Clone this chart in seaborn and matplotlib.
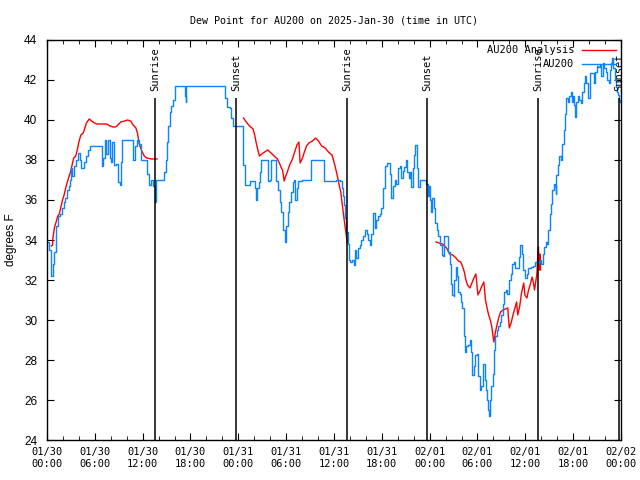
import pandas as pd
import seaborn as sns
import matplotlib.pyplot as plt
import matplotlib.dates as mdates

# data (hours since 2025-01-30 00:00 UTC, deg F)
start = pd.Timestamp('2025-01-30 00:00')

obs_hours = [0.0, 0.25, 0.5, 0.7, 0.9, 1.1, 1.4, 1.6, 1.9, 2.1, 2.3, 2.5, 2.7, 2.85, 3.0, 3.15, 3.4, 3.7, 3.9, 4.1,
             4.3, 4.6, 4.9, 5.2, 5.4, 6.8, 6.9, 7.05, 7.25, 7.45, 7.65, 7.85, 8.0, 8.2, 8.45, 8.7, 8.95, 9.1, 9.25, 9.45,
             10.6, 10.85, 11.05, 11.3, 11.6, 11.85, 12.3, 12.55, 12.75, 13.05, 13.3, 13.5, 13.65,
             14.5, 14.7, 14.9, 15.05, 15.2, 15.4, 15.6, 15.8, 16.0, 16.1, 17.1, 17.25, 17.4, 17.5, 22.15, 22.35, 22.6,
             22.9, 23.1, 23.35, 24.5, 24.65, 24.8, 25.3, 25.5, 26.0, 26.1, 26.2, 26.4, 26.55, 26.7, 26.85, 27.6, 27.7,
             28.0, 28.1, 28.55, 28.7, 29.0, 29.2, 29.4, 29.6, 29.8, 30.0, 30.2, 30.4, 30.6, 30.8, 31.0, 31.15, 31.35,
             31.5, 32.0, 32.95, 33.1, 34.6, 34.8, 35.6, 36.2, 36.8, 36.95, 37.1, 37.25, 37.4, 37.55, 37.7, 37.85,
             38.05, 38.25, 38.45, 38.6, 38.75, 39.0, 39.25, 39.45, 39.6, 39.85, 40.1, 40.3, 40.5, 40.7, 40.9, 41.1,
             41.3, 41.5, 41.75, 41.95, 42.2, 42.45, 42.65, 42.9, 43.05, 43.2, 43.4, 43.6, 43.8, 44.05, 44.25, 44.45,
             44.6, 44.75, 45.0, 45.2, 45.4, 45.55, 45.7, 45.9, 46.05, 46.2, 46.4, 46.55, 46.75, 47.2, 47.5, 47.75,
             47.9, 48.0, 48.2, 48.35, 48.5, 48.7, 48.9, 49.1, 49.3, 49.5, 49.7, 49.85, 50.1, 50.3, 50.5, 50.7, 50.85,
             51.0, 51.1, 51.3, 51.45, 51.6, 51.8, 51.95, 52.1, 52.3, 52.45, 52.6, 52.8, 53.0, 53.15, 53.35, 53.55,
             53.75, 53.95, 54.1, 54.3, 54.5, 54.7, 54.9, 55.05, 55.15, 55.3, 55.4, 55.6, 55.75, 55.95, 56.1, 56.25,
             56.45, 56.6, 56.8, 56.95, 57.15, 57.35, 57.55, 57.75, 57.95, 58.15, 58.35, 58.55, 58.75, 58.95, 59.15,
             59.35, 59.55, 59.75, 59.95, 60.15, 60.35, 60.7, 61.0, 61.25, 61.6, 61.8, 62.0, 62.2, 62.35, 62.55, 62.7,
             62.9, 63.1, 63.25, 63.4, 63.55, 63.7, 63.8, 63.9, 64.1, 64.25, 64.4, 64.5, 64.6, 64.8, 64.95, 65.1, 65.3,
             65.45, 65.7, 65.85, 66.0, 66.1, 66.25, 66.4, 66.55, 66.75, 66.95, 67.15, 67.35, 67.5, 67.65, 67.8, 67.9,
             68.05, 68.4, 68.6, 68.8, 68.95, 69.15, 69.4, 69.55, 69.7, 69.9, 70.1, 70.3, 70.45, 70.6, 70.75, 70.9,
             71.05, 71.2, 71.35, 71.5, 71.65, 71.8, 71.9]
obs_vals = [33.9, 33.5, 32.2, 32.8, 33.4, 34.7, 35.2, 35.3, 35.6, 35.9, 36.1, 36.5, 36.7, 37.0, 37.6, 37.2, 37.7, 38.0, 38.35, 38.0,
            37.6, 37.9, 38.2, 38.5, 38.7, 38.7, 37.7, 38.1, 39.0, 38.3, 39.0, 38.1, 37.9, 38.9, 37.75, 37.8, 36.9, 36.75, 37.9, 39.0,
            39.0, 38.0, 38.7, 39.0, 38.8, 38.0, 38.0, 37.3, 36.75, 37.0, 36.7, 35.9, 37.0,
            37.0, 37.4, 38.0, 38.9, 39.7, 40.4, 40.7, 41.0, 41.6, 41.7, 41.7, 41.2, 40.9, 41.7, 41.7, 41.1, 40.65,
            40.6, 40.1, 39.7, 39.7, 37.75, 36.75, 36.75, 36.95, 36.95, 36.6, 36.0, 36.6, 36.9, 37.4, 38.0, 38.0, 36.95,
            37.0, 38.0, 38.0, 36.95, 36.5, 35.9, 35.4, 34.5, 33.9, 34.7, 35.4, 35.9, 36.4, 36.9, 37.0, 36.0, 36.6,
            36.95, 37.0, 37.0, 38.0, 38.0, 36.95, 36.95, 37.0, 36.95, 36.6, 36.2, 35.75, 35.1, 34.4, 33.8, 33.0,
            32.9, 33.0, 32.75, 33.5, 33.1, 33.6, 33.75, 34.0, 34.2, 34.5, 34.3, 34.0, 33.75, 34.3, 35.35, 34.6,
            35.0, 35.2, 35.3, 35.6, 36.6, 37.7, 37.85, 37.85, 37.3, 36.1, 36.7, 37.0, 36.8, 37.6, 37.7, 37.1,
            37.45, 37.65, 38.0, 37.4, 37.1, 37.4, 36.65, 37.6, 38.25, 38.75, 37.6, 36.65, 37.0, 37.0, 36.8, 36.2,
            36.7, 36.0, 35.4, 36.1, 35.6, 34.85, 34.5, 34.2, 33.75, 33.25, 33.2, 34.2, 34.2, 33.4, 32.8, 31.8, 31.25,
            31.2, 32.0, 32.65, 32.2, 31.4, 31.3, 30.9, 30.6, 29.2, 28.4, 28.7, 28.75, 29.0, 28.4, 27.25, 27.7,
            28.25, 28.3, 27.2, 26.5, 26.7, 27.8, 27.0, 26.5, 26.0, 25.5, 25.2, 26.0, 26.7, 27.3, 28.5, 29.2,
            29.5, 29.7, 29.9, 30.25, 30.8, 31.4, 31.5, 31.3, 32.0, 32.3, 32.8, 32.9, 32.6, 32.6, 33.15,
            33.75, 33.3, 32.5, 32.1, 32.3, 32.6, 32.65, 32.7, 32.9, 32.9, 33.0, 32.8, 33.3, 33.65, 33.9, 33.8,
            34.5, 35.3, 35.8, 36.5, 36.8, 36.7, 36.3, 37.25, 37.75, 38.2, 38.2, 38.0, 38.8, 39.5, 40.3, 41.1, 40.9,
            41.2, 41.4, 40.9, 41.2, 40.75, 40.15, 40.9, 41.2, 41.0, 40.85, 41.4, 41.85, 42.2, 41.85, 41.4, 41.1,
            42.35, 42.35, 41.85, 42.4, 42.7, 42.65, 42.75, 42.2, 42.85, 42.6, 42.4, 42.0, 41.85, 42.5, 42.85, 43.1,
            42.6, 42.0, 41.65, 41.4, 41.25, 41.0, 40.9]

# analysis series, three separate runs
ana_hours_1 = [0.55, 0.7, 0.75, 0.95, 1.15, 1.35, 1.55, 1.75, 1.95, 2.15, 2.35, 2.55, 2.75, 2.95, 3.15, 3.35, 3.6, 3.8,
               4.0, 4.25, 4.55, 4.75, 4.95, 5.3, 5.6, 5.95, 6.25, 7.5, 7.9, 8.3, 8.6, 8.9, 9.25, 9.75, 10.1, 10.5,
               10.8, 11.15, 11.35, 11.55, 11.75, 11.95, 12.2, 12.5, 13.1, 13.8]
ana_vals_1 = [33.7, 33.75, 34.1, 34.65, 34.9, 35.2, 35.3, 35.65, 36.0, 36.25, 36.6, 36.9, 37.15, 37.4, 37.75, 38.1, 38.2, 38.5,
              38.9, 39.25, 39.35, 39.6, 39.85, 40.05, 39.95, 39.85, 39.8, 39.8, 39.7, 39.65, 39.65, 39.75, 39.9, 39.95, 40.0, 39.95,
              39.75, 39.6, 39.35, 38.85, 38.6, 38.4, 38.2, 38.1, 38.05, 38.05]
ana_hours_2 = [24.65, 25.0, 25.4, 25.85, 26.05, 26.25, 26.45, 26.65, 27.1, 27.7, 28.1, 28.5, 28.9, 29.15, 29.35, 29.55,
               29.75, 29.95, 30.15, 30.35, 30.55, 30.75, 30.95, 31.15, 31.35, 31.6, 31.75, 32.05, 32.25, 32.55, 32.85,
               33.3, 33.7, 34.05, 34.45, 34.9, 35.3, 35.75, 36.0, 36.25, 36.45, 36.65, 36.85, 37.05, 37.25, 37.45, 37.65]
ana_vals_2 = [40.1, 39.9, 39.7, 39.55, 39.25, 38.85, 38.5, 38.2, 38.35, 38.5, 38.35, 38.2, 38.05, 37.85, 37.65, 37.5,
              36.95, 37.2, 37.4, 37.65, 37.85, 38.0, 38.25, 38.5, 38.75, 38.9, 37.85, 38.1, 38.35, 38.7, 38.85,
              38.95, 39.1, 38.95, 38.7, 38.6, 38.4, 38.25, 37.9, 37.5, 37.15, 36.75, 36.4, 35.75, 35.1, 34.5, 33.9]
ana_hours_3 = [48.8, 49.2, 49.6, 49.9, 50.2, 50.5, 50.9, 51.3, 51.6, 51.9, 52.15, 52.35, 52.55, 52.75, 53.05, 53.3, 53.55,
               53.8, 54.05, 54.3, 54.55, 54.8, 55.0, 55.2, 55.4, 55.6, 55.8, 56.05, 56.25, 56.45, 56.65, 56.9, 57.2,
               57.5, 57.8, 57.9, 58.0, 58.25, 58.45, 58.7, 58.9, 59.05, 59.3, 59.5, 59.8, 59.95, 60.2, 60.4, 60.6,
               60.85, 61.0, 61.15, 61.3, 61.45, 61.55, 61.65, 61.75, 61.85, 61.9]
ana_vals_3 = [33.9, 33.85, 33.8, 33.7, 33.55, 33.3, 33.25, 33.1, 32.95, 32.9, 32.65, 32.4, 32.0, 31.75, 31.6, 31.85, 32.1,
              32.3, 31.25, 31.45, 31.7, 31.9, 31.0, 30.6, 30.25, 30.0, 29.65, 28.9, 29.4, 29.75, 30.1, 30.4, 30.5,
              30.55, 30.6, 30.0, 29.6, 29.9, 30.25, 30.6, 30.9, 30.25, 30.7, 31.3, 31.85, 31.25, 31.1, 31.5, 31.75,
              32.15, 31.9, 31.5, 31.9, 32.3, 33.15, 33.65, 32.5, 33.3, 32.5]

sunrise_hours = [13.55, 37.64, 61.6]
sunset_hours = [23.71, 47.68, 71.77]

mono = 'DejaVu Sans Mono'

fig = plt.figure(figsize=(6.4, 4.8), dpi=100)
ax = fig.add_axes([0.0734, 0.0833, 0.8969, 0.8334])

red_runs = [(ana_hours_1, ana_vals_1), (ana_hours_2, ana_vals_2), (ana_hours_3, ana_vals_3)]
for i, (hh, vv) in enumerate(red_runs):
    d = pd.DataFrame({'time': start + pd.to_timedelta(hh, unit='h'), 'dewpt': vv})
    sns.lineplot(data=d, x='time', y='dewpt', ax=ax, color='#ff0000', linewidth=1.0,
                 label='AU200 Analysis' if i == 0 else None, legend=False)

obs = pd.DataFrame({'time': start + pd.to_timedelta(obs_hours, unit='h'), 'dewpt': obs_vals})
sns.lineplot(data=obs, x='time', y='dewpt', ax=ax, color='#0a84ff', linewidth=1.0,
             label='AU200', legend=False, drawstyle='steps-post')

# sunrise / sunset markers
for name, hours in [('Sunrise', sunrise_hours), ('Sunset', sunset_hours)]:
    for h in hours:
        xv = mdates.date2num(start + pd.Timedelta(hours=h))
        ax.vlines(xv, 24, 41.1, color='black', linewidth=1.1)
        ax.text(xv, 41.45, name, rotation=90, ha='center', va='bottom',
                fontsize=7.5, family=mono)

ax.set_xlim(start, start + pd.Timedelta(hours=72))
ax.set_ylim(24, 44)
ax.set_yticks(range(24, 45, 2))
ax.xaxis.set_major_locator(mdates.HourLocator(byhour=range(0, 24, 6)))
ax.xaxis.set_minor_locator(mdates.HourLocator(byhour=range(0, 24, 2)))
ax.xaxis.set_major_formatter(mdates.DateFormatter('%m/%d\n%H:%M'))

ax.tick_params(which='both', direction='in', top=True, right=True)
ax.tick_params(which='major', length=5)
ax.tick_params(which='minor', length=3)
ax.tick_params(axis='x', pad=5)
ax.tick_params(axis='y', pad=7, labelsize=8.5)
for lab in ax.get_xticklabels():
    lab.set_family(mono)
    lab.set_fontsize(7.5)
for lab in ax.get_yticklabels():
    lab.set_family('Liberation Sans')

ax.set_xlabel('')
ax.set_ylabel('degrees F', family='Liberation Sans', fontsize=8.5, labelpad=5)
ax.set_title('Dew Point for AU200 on 2025-Jan-30 (time in UTC)', family=mono, fontsize=7.2, pad=12)

ax.legend(loc='upper right', frameon=False, markerfirst=False, prop={'family': mono, 'size': 7.5},
          handlelength=3.2, borderaxespad=0.3, borderpad=0.2, labelspacing=0.4, handletextpad=0.8)

for s in ax.spines.values():
    s.set_linewidth(1.0)

fig.savefig('out.png', dpi=100)
